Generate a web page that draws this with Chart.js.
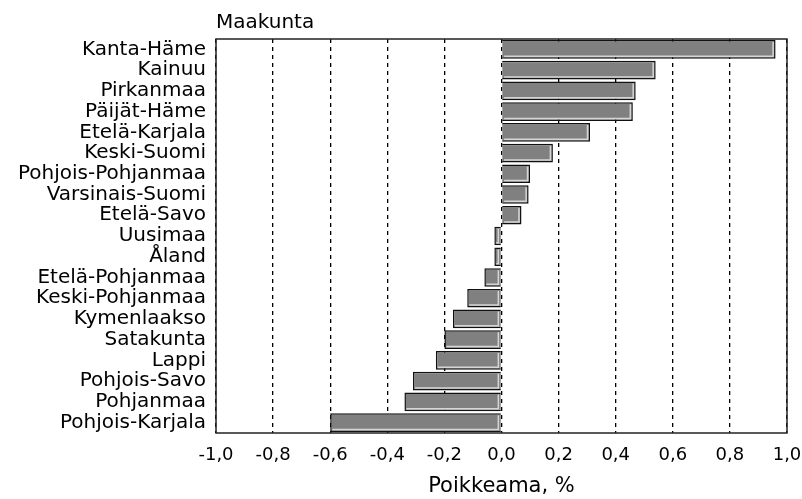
<!DOCTYPE html>
<html><head><meta charset="utf-8">
<script src="https://cdn.jsdelivr.net/npm/chart.js@4"></script>
<style>html,body{margin:0;padding:0;background:#fff;} #wrap{width:802px;height:499px;position:relative;}</style>
</head><body><div id="wrap"><canvas id="c"></canvas></div>
<script>
const categories = ['Kanta-Häme','Kainuu','Pirkanmaa','Päijät-Häme','Etelä-Karjala','Keski-Suomi','Pohjois-Pohjanmaa','Varsinais-Suomi','Etelä-Savo','Uusimaa','Åland','Etelä-Pohjanmaa','Keski-Pohjanmaa','Kymenlaakso','Satakunta','Lappi','Pohjois-Savo','Pohjanmaa','Pohjois-Karjala'];
const values = [0.96, 0.54, 0.47, 0.46, 0.31, 0.18, 0.10, 0.095, 0.07, -0.025, -0.025, -0.06, -0.12, -0.17, -0.20, -0.23, -0.31, -0.34, -0.60];
const tickLabels = ['-1,0','-0,8','-0,6','-0,4','-0,2','0,0','0,2','0,4','0,6','0,8','1,0'];
const yTitle = 'Maakunta';
const xTitle = 'Poikkeama, %';
const FONT = "'DejaVu Sans', sans-serif";

const frame = {id:'frame', afterDraw(chart){
  const a = chart.chartArea, ctx = chart.ctx;
  ctx.save(); ctx.strokeStyle = '#222'; ctx.lineWidth = 1.5;
  ctx.strokeRect(a.left, a.top, a.right - a.left, a.bottom - a.top);
  ctx.restore();
}};
const bevel = {id:'bevel', afterDatasetsDraw(chart){
  const ctx = chart.ctx, meta = chart.getDatasetMeta(0);
  ctx.save(); ctx.strokeStyle = '#d6d6d6'; ctx.lineWidth = 1.5;
  meta.data.forEach(el => {
    const p = el.getProps(['x','y','base','height'], true);
    const left = Math.min(p.x, p.base), right = Math.max(p.x, p.base);
    const top = p.y - p.height/2, bottom = p.y + p.height/2;
    if (right - left < 5) return;
    ctx.beginPath();
    ctx.moveTo(left + 2, bottom - 2.5);
    ctx.lineTo(right - 2.5, bottom - 2.5);
    ctx.lineTo(right - 2.5, top + 2);
    ctx.stroke();
  });
  ctx.restore();
}};

new Chart(document.getElementById('c'), {
  type: 'bar',
  data: { labels: categories, datasets: [{ data: values, backgroundColor: '#808080', borderColor: '#111', borderWidth: 1.5, barPercentage: 0.9, categoryPercentage: 1 }] },
  options: {
    indexAxis: 'y', responsive: true, maintainAspectRatio: false, animation: false,
    layout: { padding: { left: 0, right: 15, top: 2, bottom: 0 } },
    plugins: {
      legend: { display: false }, tooltip: { enabled: false },
      title: { display: true, text: yTitle, align: 'start', fullSize: false, color: '#000', font: { family: FONT, size: 20, weight: 'normal' }, padding: { top: 9, bottom: 4 } }
    },
    scales: {
      x: {
        min: -1, max: 1,
        ticks: { stepSize: 0.2, color: '#000', font: { family: FONT, size: 18 }, padding: 12, callback: (v, i) => tickLabels[i] },
        grid: { color: '#000', lineWidth: 1.3, drawTicks: false },
        border: { display: false, dash: [4, 4] },
        title: { display: true, text: xTitle, color: '#000', font: { family: FONT, size: 21 }, padding: { top: 0, bottom: 0 } },
        afterFit: s => { s.height = 66; s.paddingLeft = 0; s.paddingRight = 0; }
      },
      y: {
        ticks: { color: '#000', font: { family: FONT, size: 20 }, padding: 10, autoSkip: false },
        grid: { display: false, drawTicks: false },
        border: { display: false },
        afterFit: s => { s.width = 216; }
      }
    }
  },
  plugins: [frame, bevel]
});
</script></body></html>
